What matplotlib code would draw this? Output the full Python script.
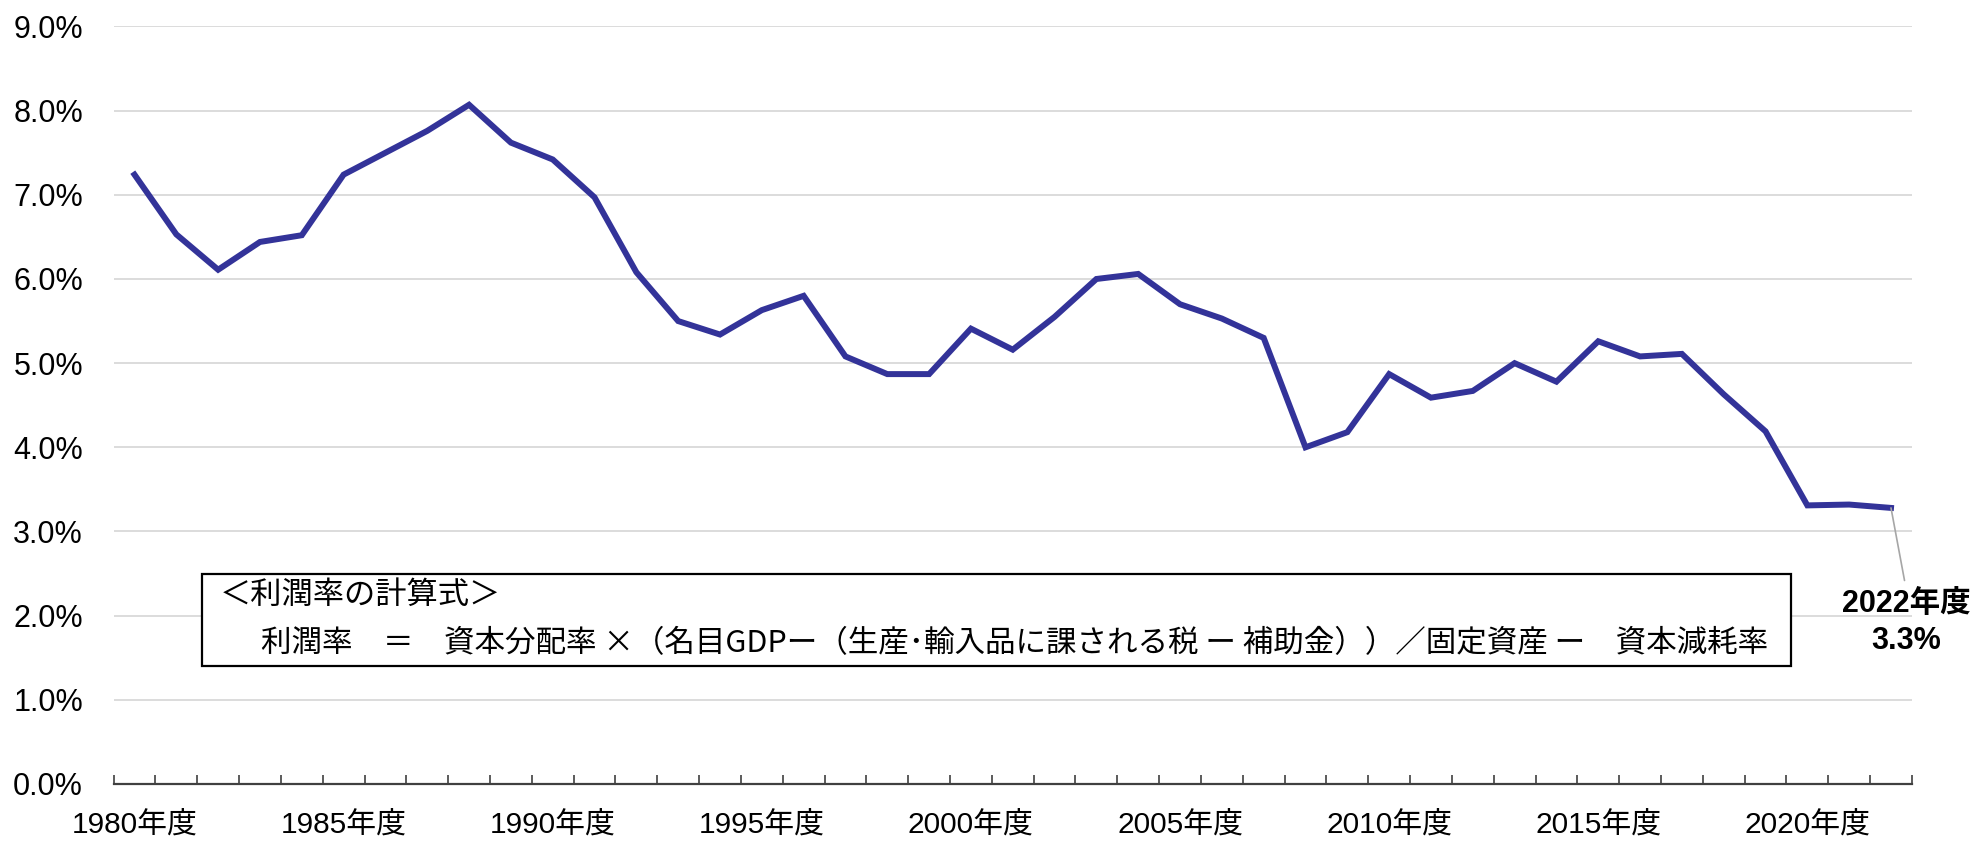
import numpy as np
import matplotlib
matplotlib.use("Agg")
import matplotlib.pyplot as plt
from matplotlib.patches import Rectangle
from matplotlib.ticker import FuncFormatter

plt.rcParams["font.family"] = ["Liberation Sans", "Noto Sans CJK JP"]

# ---------------------------------------------------------
# 利潤率 (年度)
# ---------------------------------------------------------
years = list(range(1980, 2023))
profit_rate = [
    7.24, 6.53, 6.11, 6.44, 6.52, 7.24, 7.50, 7.76, 8.07, 7.62,
    7.42, 6.97, 6.08, 5.50, 5.34, 5.63, 5.80, 5.08, 4.87, 4.87,
    5.41, 5.16, 5.55, 6.00, 6.06, 5.70, 5.53, 5.30, 4.00, 4.18,
    4.87, 4.59, 4.67, 5.00, 4.78, 5.26, 5.08, 5.11, 4.63, 4.19,
    3.31, 3.32, 3.28,
]
label_years = [1980, 1985, 1990, 1995, 2000, 2005, 2010, 2015, 2020]
tick_labels = [f"{y}年度" for y in label_years]

formula_title = "＜利潤率の計算式＞"
formula_body = ("利潤率　＝　資本分配率 ×（名目GDPー（生産･輸入品に課される税 ー 補助金））"
                "／固定資産 ー　資本減耗率")

x = np.arange(len(years))

fig = plt.figure(figsize=(19.79, 8.41), dpi=100)
ax = fig.add_axes([0.0574, 0.0678, 0.9087, 0.9007])

ax.plot(x, profit_rate, color="#333399", lw=4.3, solid_joinstyle="miter", zorder=3)

ax.set_xlim(-0.5, len(years) - 0.5)
ax.set_ylim(0, 9)

# y axis: percent labels, light grid, no spine
ax.set_yticks(np.arange(0, 10, 1))
ax.yaxis.set_major_formatter(FuncFormatter(lambda v, _: f"{v:.1f}%"))
ax.tick_params(axis="y", length=0, pad=22, labelsize=22, labelcolor="black")
ax.yaxis.grid(True, color="#d9d9d9", lw=1.3, zorder=0)
ax.set_axisbelow(True)

# x axis: tick marks between categories, labels every 5 years
ax.set_xticks(np.arange(-0.5, len(years), 1))
ax.set_xticklabels([])
ax.tick_params(axis="x", which="major", direction="in", length=6.5, width=1.2, color="#404040")
ax.set_xticks([years.index(y) for y in label_years], tick_labels, minor=True)
ax.tick_params(axis="x", which="minor", length=0, pad=20, labelsize=21.5)

for side in ["left", "right", "top"]:
    ax.spines[side].set_visible(False)
ax.spines["bottom"].set_color("#404040")
ax.spines["bottom"].set_linewidth(1.6)

# formula box
ax.add_patch(Rectangle((0.049, 0.1556), 0.884, 0.1216, transform=ax.transAxes,
                       facecolor="white", edgecolor="black", lw=1.6, zorder=4))
ax.text(0.059, 0.250, formula_title, transform=ax.transAxes, fontsize=22.5,
        family=["Noto Sans CJK JP"], va="center", ha="left", zorder=5)
ax.text(0.082, 0.186, formula_body, transform=ax.transAxes, fontsize=22,
        family=["Noto Sans CJK JP"], va="center", ha="left", zorder=5)

# last value label
ax.annotate(f"{years[-1]}年度\n{profit_rate[-1]:.1f}%",
            xy=(x[-1], profit_rate[-1]), xytext=(x[-1] + 0.36, 2.32),
            ha="center", va="top", fontsize=22, fontweight="bold",
            linespacing=1.3,
            arrowprops=dict(arrowstyle="-", color="#a6a6a6", lw=1.2,
                            shrinkA=4, shrinkB=0, relpos=(0.5, 1.0)))

plt.savefig("out.png", dpi=100)
